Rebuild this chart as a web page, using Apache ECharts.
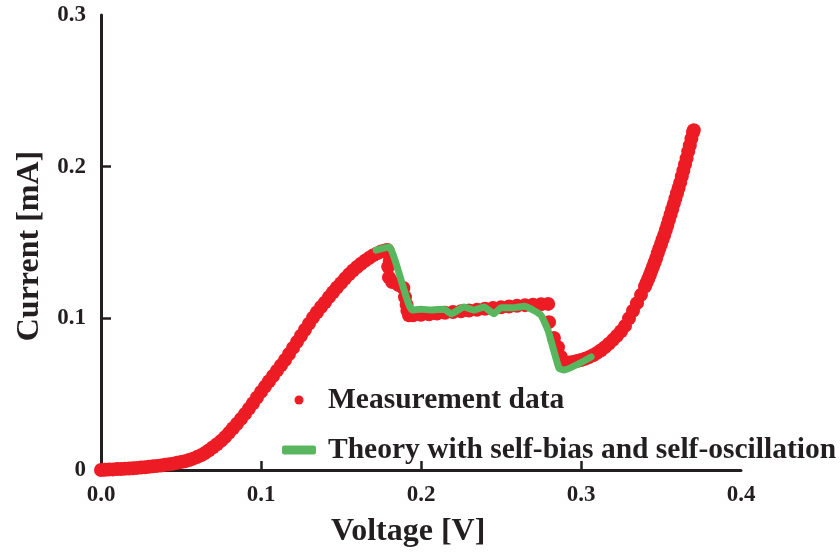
<!DOCTYPE html>
<html>
<head>
<meta charset="utf-8">
<script src="https://cdn.jsdelivr.net/npm/echarts@6/dist/echarts.min.js"></script>
<style>
  html, body { margin: 0; padding: 0; background: #fff; }
  #chart { width: 840px; height: 552px; }
</style>
</head>
<body>
<div id="chart"></div>
<script>
// Measured I-V curve (voltage in V, current in mA)
const measuredV = [
  0.0000, 0.0025, 0.005, 0.0075, 0.010, 0.0125, 0.015, 0.0175, 0.020, 0.0225, 0.025, 0.0275,
  0.030, 0.0325, 0.035, 0.0375, 0.040, 0.0425, 0.045, 0.0475, 0.050, 0.0525, 0.055, 0.0575, 0.060,
  0.0625, 0.065, 0.0675, 0.070, 0.0725, 0.075, 0.0775, 0.080, 0.0825, 0.085, 0.0875, 0.090,
  0.0925, 0.095, 0.0975, 0.100, 0.1025, 0.105, 0.1075, 0.110, 0.1125, 0.115, 0.1175, 0.120,
  0.1225, 0.125, 0.1275, 0.130, 0.1325, 0.135, 0.1375, 0.140, 0.1425, 0.145, 0.1475, 0.150,
  0.1525, 0.155, 0.1575, 0.160, 0.1625, 0.165, 0.1675, 0.170, 0.1725, 0.175, 0.1775, 0.179,
  0.1805, 0.1795, 0.180, 0.182, 0.186, 0.189, 0.190, 0.191, 0.1915,
  0.1925, 0.195, 0.200, 0.205, 0.210, 0.215, 0.220, 0.225, 0.230, 0.235, 0.240, 0.245,
  0.250, 0.255, 0.260, 0.265, 0.270, 0.275, 0.2795,
  0.2800, 0.2831, 0.2856, 0.2875, 0.2894,
  0.290, 0.2925, 0.295, 0.2975, 0.300, 0.3025, 0.305, 0.3075, 0.310, 0.3125, 0.315, 0.3175,
  0.320, 0.3225, 0.325, 0.3275, 0.330, 0.3325, 0.335, 0.3375, 0.340,
  0.341, 0.342, 0.343, 0.344, 0.345, 0.346, 0.347, 0.348, 0.349, 0.350,
  0.351, 0.352, 0.353, 0.354, 0.355, 0.356, 0.357, 0.358, 0.359, 0.360,
  0.361, 0.362, 0.363, 0.364, 0.365, 0.366, 0.367, 0.368, 0.369, 0.370, 0.3705
];
const measuredI = [
  0.0000, 0.0001, 0.0003, 0.0004, 0.0006, 0.0007, 0.0009, 0.0010, 0.0012, 0.0014, 0.0016, 0.0018,
  0.0021, 0.0024, 0.0027, 0.0030, 0.0034, 0.0038, 0.0042, 0.0047, 0.0052, 0.0058, 0.0066, 0.0075, 0.0085,
  0.0097, 0.0112, 0.0130, 0.0150, 0.0170, 0.0192, 0.0217, 0.0245, 0.0275, 0.0305, 0.0337, 0.0370,
  0.0405, 0.0440, 0.0478, 0.0515, 0.0550, 0.0585, 0.0620, 0.0655, 0.0690, 0.0725, 0.0765, 0.0805,
  0.0845, 0.0885, 0.0925, 0.0965, 0.1005, 0.1040, 0.1075, 0.1105, 0.1140, 0.1172, 0.1203, 0.1232,
  0.1262, 0.1290, 0.1315, 0.1338, 0.1360, 0.1380, 0.1398, 0.1415, 0.1428, 0.1440, 0.1448, 0.1450,
  0.1380, 0.1340, 0.1270, 0.1240, 0.1220, 0.1200, 0.1140, 0.1090, 0.1050,
  0.1020, 0.1020, 0.1023, 0.1027, 0.1032, 0.1037, 0.1042, 0.1047, 0.1052, 0.1057, 0.1063, 0.1068,
  0.1073, 0.1078, 0.1083, 0.1087, 0.1090, 0.1093, 0.1095,
  0.0975, 0.0870, 0.0810, 0.0745, 0.0710,
  0.0705, 0.0708, 0.0712, 0.0718, 0.0725, 0.0733, 0.0744, 0.0757, 0.0772, 0.0790, 0.0810, 0.0833,
  0.0858, 0.0885, 0.0915, 0.0950, 0.1000, 0.1050, 0.1100, 0.1155, 0.1210,
  0.1235, 0.1260, 0.1286, 0.1313, 0.1340, 0.1368, 0.1398, 0.1430, 0.1460, 0.1490,
  0.1520, 0.1550, 0.1582, 0.1615, 0.1650, 0.1685, 0.1720, 0.1755, 0.1790, 0.1825,
  0.1860, 0.1895, 0.1935, 0.1975, 0.2015, 0.2055, 0.2100, 0.2140, 0.2185, 0.2225, 0.2240
];

// Model curve: theory with self-bias and self-oscillation
const theoryV = [
  0.1719, 0.1800, 0.1944, 0.2000, 0.2063, 0.2144, 0.2188, 0.2269, 0.2331, 0.2394, 0.2456,
  0.2500, 0.2581, 0.2644, 0.2700, 0.2750, 0.2794, 0.2863, 0.2894, 0.3063
];
const theoryI = [
  0.1450, 0.1470, 0.1055, 0.1060, 0.1055, 0.1060, 0.1030, 0.1075, 0.1055, 0.1075, 0.1030,
  0.1070, 0.1070, 0.1080, 0.1055, 0.1020, 0.0920, 0.0670, 0.0660, 0.0745
];

const xTicks = [0.0, 0.1, 0.2, 0.3, 0.4];
const yTicks = [0, 0.1, 0.2, 0.3];

const seriesNames = ['Measurement data', 'Theory with self-bias and self-oscillation'];

const ink = '#231f20';
const serif = '"Liberation Serif", "Times New Roman", serif';

const measured = measuredV.map((v, i) => [v, measuredI[i]]);
const theory = theoryV.map((v, i) => [v, theoryI[i]]);

const chart = echarts.init(document.getElementById('chart'), null, { renderer: 'canvas' });

chart.setOption({
  backgroundColor: '#ffffff',
  animation: false,
  grid: { left: 101, right: 99, top: 15, bottom: 82, containLabel: false },
  xAxis: {
    type: 'value',
    min: xTicks[0],
    max: xTicks[xTicks.length - 1],
    interval: 0.1,
    axisLine: { show: true, onZero: false, lineStyle: { color: ink, width: 3 } },
    axisTick: { show: true, inside: true, length: 9, customValues: [0.1, 0.2, 0.3], lineStyle: { color: ink, width: 2.5 } },
    axisLabel: {
      margin: 14,
      color: ink,
      fontFamily: serif,
      fontWeight: 'bold',
      fontSize: 23,
      customValues: xTicks,
      formatter: v => v.toFixed(1)
    },
    splitLine: { show: false }
  },
  yAxis: {
    type: 'value',
    min: yTicks[0],
    max: yTicks[yTicks.length - 1],
    interval: 0.1,
    axisLine: { show: true, onZero: false, lineStyle: { color: ink, width: 3 } },
    axisTick: { show: true, inside: true, length: 10, customValues: [0.1, 0.2], lineStyle: { color: ink, width: 2.5 } },
    axisLabel: {
      margin: 15,
      color: ink,
      fontFamily: serif,
      fontWeight: 'bold',
      fontSize: 23,
      customValues: yTicks,
      formatter: v => (v === 0 ? '0' : v.toFixed(1))
    },
    splitLine: { show: false }
  },
  legend: {
    orient: 'vertical',
    left: 277,
    top: 380,
    itemWidth: 34,
    itemHeight: 9,
    itemGap: 20,
    textStyle: {
      color: ink,
      fontFamily: serif,
      fontWeight: 'bold',
      fontSize: 29.5,
      lineHeight: 30,
      padding: [0, 0, 0, 7]
    },
    data: [
      { name: seriesNames[0], icon: 'circle' },
      { name: seriesNames[1], icon: 'roundRect' }
    ]
  },
  graphic: [
    {
      type: 'text',
      left: 331,
      top: 516,
      style: { text: 'Voltage [V]', fill: ink, font: 'bold 32px ' + serif }
    },
    {
      type: 'text',
      x: 30,
      y: 246,
      rotation: Math.PI / 2,
      style: {
        text: 'Current [mA]',
        fill: ink,
        font: 'bold 32px ' + serif,
        align: 'center',
        verticalAlign: 'middle'
      }
    }
  ],
  series: [
    {
      name: seriesNames[0],
      type: 'scatter',
      data: measured,
      symbol: 'circle',
      symbolSize: 14,
      itemStyle: { color: '#ed1c24', opacity: 1 },
      z: 2
    },
    {
      name: seriesNames[1],
      type: 'line',
      data: theory,
      showSymbol: false,
      smooth: 0.15,
      lineStyle: { color: '#58b65f', width: 7, cap: 'round', join: 'round' },
      itemStyle: { color: '#58b65f' },
      z: 3
    }
  ]
});
</script>
</body>
</html>
